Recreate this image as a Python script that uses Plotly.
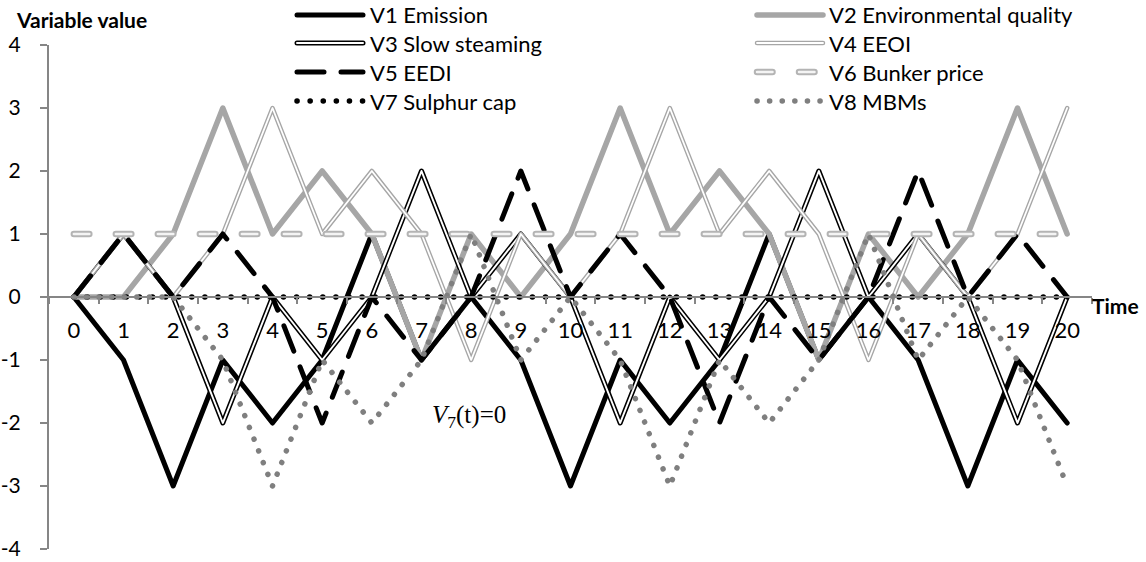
import plotly.graph_objects as go

# ---------------- data ----------------
time = list(range(21))
v1_emission = [0, -1, -3, -1, -2, -1, 1, -1, 0, -1, -3, -1, -2, -1, 1, -1, 0, -1, -3, -1, -2]
v2_env_quality = [0, 0, 1, 3, 1, 2, 1, -1, 1, 0, 1, 3, 1, 2, 1, -1, 1, 0, 1, 3, 1]
v3_slow_steaming = [0, 1, 0, -2, 0, -1, 0, 2, 0, 1, 0, -2, 0, -1, 0, 2, 0, 1, 0, -2, 0]
v4_eeoi = [0, 1, 0, 1, 3, 1, 2, 1, -1, 1, 0, 1, 3, 1, 2, 1, -1, 1, 0, 1, 3]
v5_eedi = [0, 1, 0, 1, 0, -2, 0, -1, 0, 2, 0, 1, 0, -2, 0, -1, 0, 2, 0, 1, 0]
v6_bunker = [1, 1, 1, 1, 1, 1, 1, 1, 1, 1, 1, 1, 1, 1, 1, 1, 1, 1, 1, 1, 1]
v7_sulphur = [0, 0, 0, 0, 0, 0, 0, 0, 0, 0, 0, 0, 0, 0, 0, 0, 0, 0, 0, 0, 0]
v8_mbms = [0, 0, 0, -1, -3, -1, -2, -1, 1, -1, 0, -1, -3, -1, -2, -1, 1, -1, 0, -1, -3]

names = ["V1 Emission", "V2 Environmental quality", "V3 Slow steaming", "V4 EEOI",
         "V5 EEDI", "V6 Bunker price", "V7 Sulphur cap", "V8 MBMs"]
series = [v1_emission, v2_env_quality, v3_slow_steaming, v4_eeoi,
          v5_eedi, v6_bunker, v7_sulphur, v8_mbms]
y_ticks = [4, 3, 2, 1, 0, -1, -2, -3, -4]

# ---------------- styles (layers drawn bottom->top, round caps via CSS) ----------------
styles = [
    [("black", 5, "solid")],
    [("#A6A6A6", 5.5, "solid")],
    [("black", 5, "solid"), ("white", 2, "solid")],
    [("#A6A6A6", 4.5, "solid"), ("white", 1.8, "solid")],
    [("black", 5, "27px,17px")],
    [("#B4B4B4", 6.5, "15.5px,26.5px"), ("#F4F4F4", 2.5, "15.5px,26.5px")],
    [("black", 5.5, "0.1px,13px")],
    [("#7F7F7F", 5.5, "0.1px,12.5px")],
]

FONT = "Lato"
fig = go.Figure()
for name, ys, layers in zip(names, series, styles):
    for col, w, dash in layers:
        fig.add_trace(go.Scatter(x=time, y=ys, mode="lines", name=name,
                                 line=dict(color=col, width=w, dash=dash),
                                 showlegend=False, hoverinfo="skip"))

# plot area geometry in pixels
W, H = 1146, 562
L, R, T, B = 49, 54, 45, 13
PW, PH = W - L - R, H - T - B


def px(x):
    return (x - L) / PW


def py(y):
    return (H - B - y) / PH


# ---------------- manual legend ----------------
shapes = []
annotations = []
rows = [15, 43, 72, 101]
cols = [(297, 363, 368), (757, 823, 827)]
for i, (name, layers) in enumerate(zip(names, styles)):
    r, c = i // 2, i % 2
    x0, x1, xt = cols[c]
    yy = py(rows[r])
    for col, w, dash in layers:
        shapes.append(dict(type="line", xref="paper", yref="paper",
                           x0=px(x0), x1=px(x1), y0=yy, y1=yy,
                           line=dict(color=col, width=w, dash=dash)))
    annotations.append(dict(x=px(xt), y=yy, xref="paper", yref="paper",
                            text=name, showarrow=False, xanchor="left", yanchor="middle",
                            font=dict(family=FONT, size=22, color="black")))

annotations.append(dict(x=px(14), y=py(20), xref="paper", yref="paper",
                        text="<b>Variable value</b>", showarrow=False,
                        xanchor="left", yanchor="middle",
                        font=dict(family=FONT, size=21, color="black")))
annotations.append(dict(x=px(1090), y=py(305), xref="paper", yref="paper",
                        text="<b>Time</b>", showarrow=False,
                        xanchor="left", yanchor="middle",
                        font=dict(family=FONT, size=21, color="black")))
annotations.append(dict(x=7.95, y=-1.9, xref="x", yref="y",
                        text="<i>V</i><sub>7</sub>(t)=0", showarrow=False,
                        xanchor="center", yanchor="middle",
                        font=dict(family="Liberation Serif", size=25, color="black")))

fig.update_layout(
    width=W, height=H,
    margin=dict(l=L, r=R, t=T, b=B, pad=0),
    paper_bgcolor="white", plot_bgcolor="white",
    showlegend=False,
    shapes=shapes, annotations=annotations,
    font=dict(family=FONT, size=22, color="black"),
    xaxis=dict(type="category", range=[-0.5, 20.5], anchor="free", position=0.5,
               showline=True, linecolor="#868686", linewidth=2,
               ticks="outside", tickson="boundaries", ticklen=6, tickwidth=1.5,
               tickcolor="#868686", showgrid=False, zeroline=False,
               tickfont=dict(family=FONT, size=22, color="black"),
               ticklabelstandoff=14, automargin=False),
    yaxis=dict(range=[-4, 4], tickvals=y_ticks, ticktext=[str(v) for v in y_ticks],
               showline=True, linecolor="#868686", linewidth=2,
               ticks="outside", ticklen=7, tickwidth=1.5, tickcolor="#868686",
               showgrid=False, zeroline=False, automargin=False,
               ticklabeloverflow="allow",
               tickfont=dict(family=FONT, size=21, color="black"),
               ticklabelstandoff=15),
)

css = ("var s=document.createElement('style');"
       "s.textContent='.js-line{stroke-linecap:round;stroke-linejoin:round}"
       " .shapelayer path{stroke-linecap:round}';"
       "document.head.appendChild(s);")
fig.write_html("out.html", post_script=css)
